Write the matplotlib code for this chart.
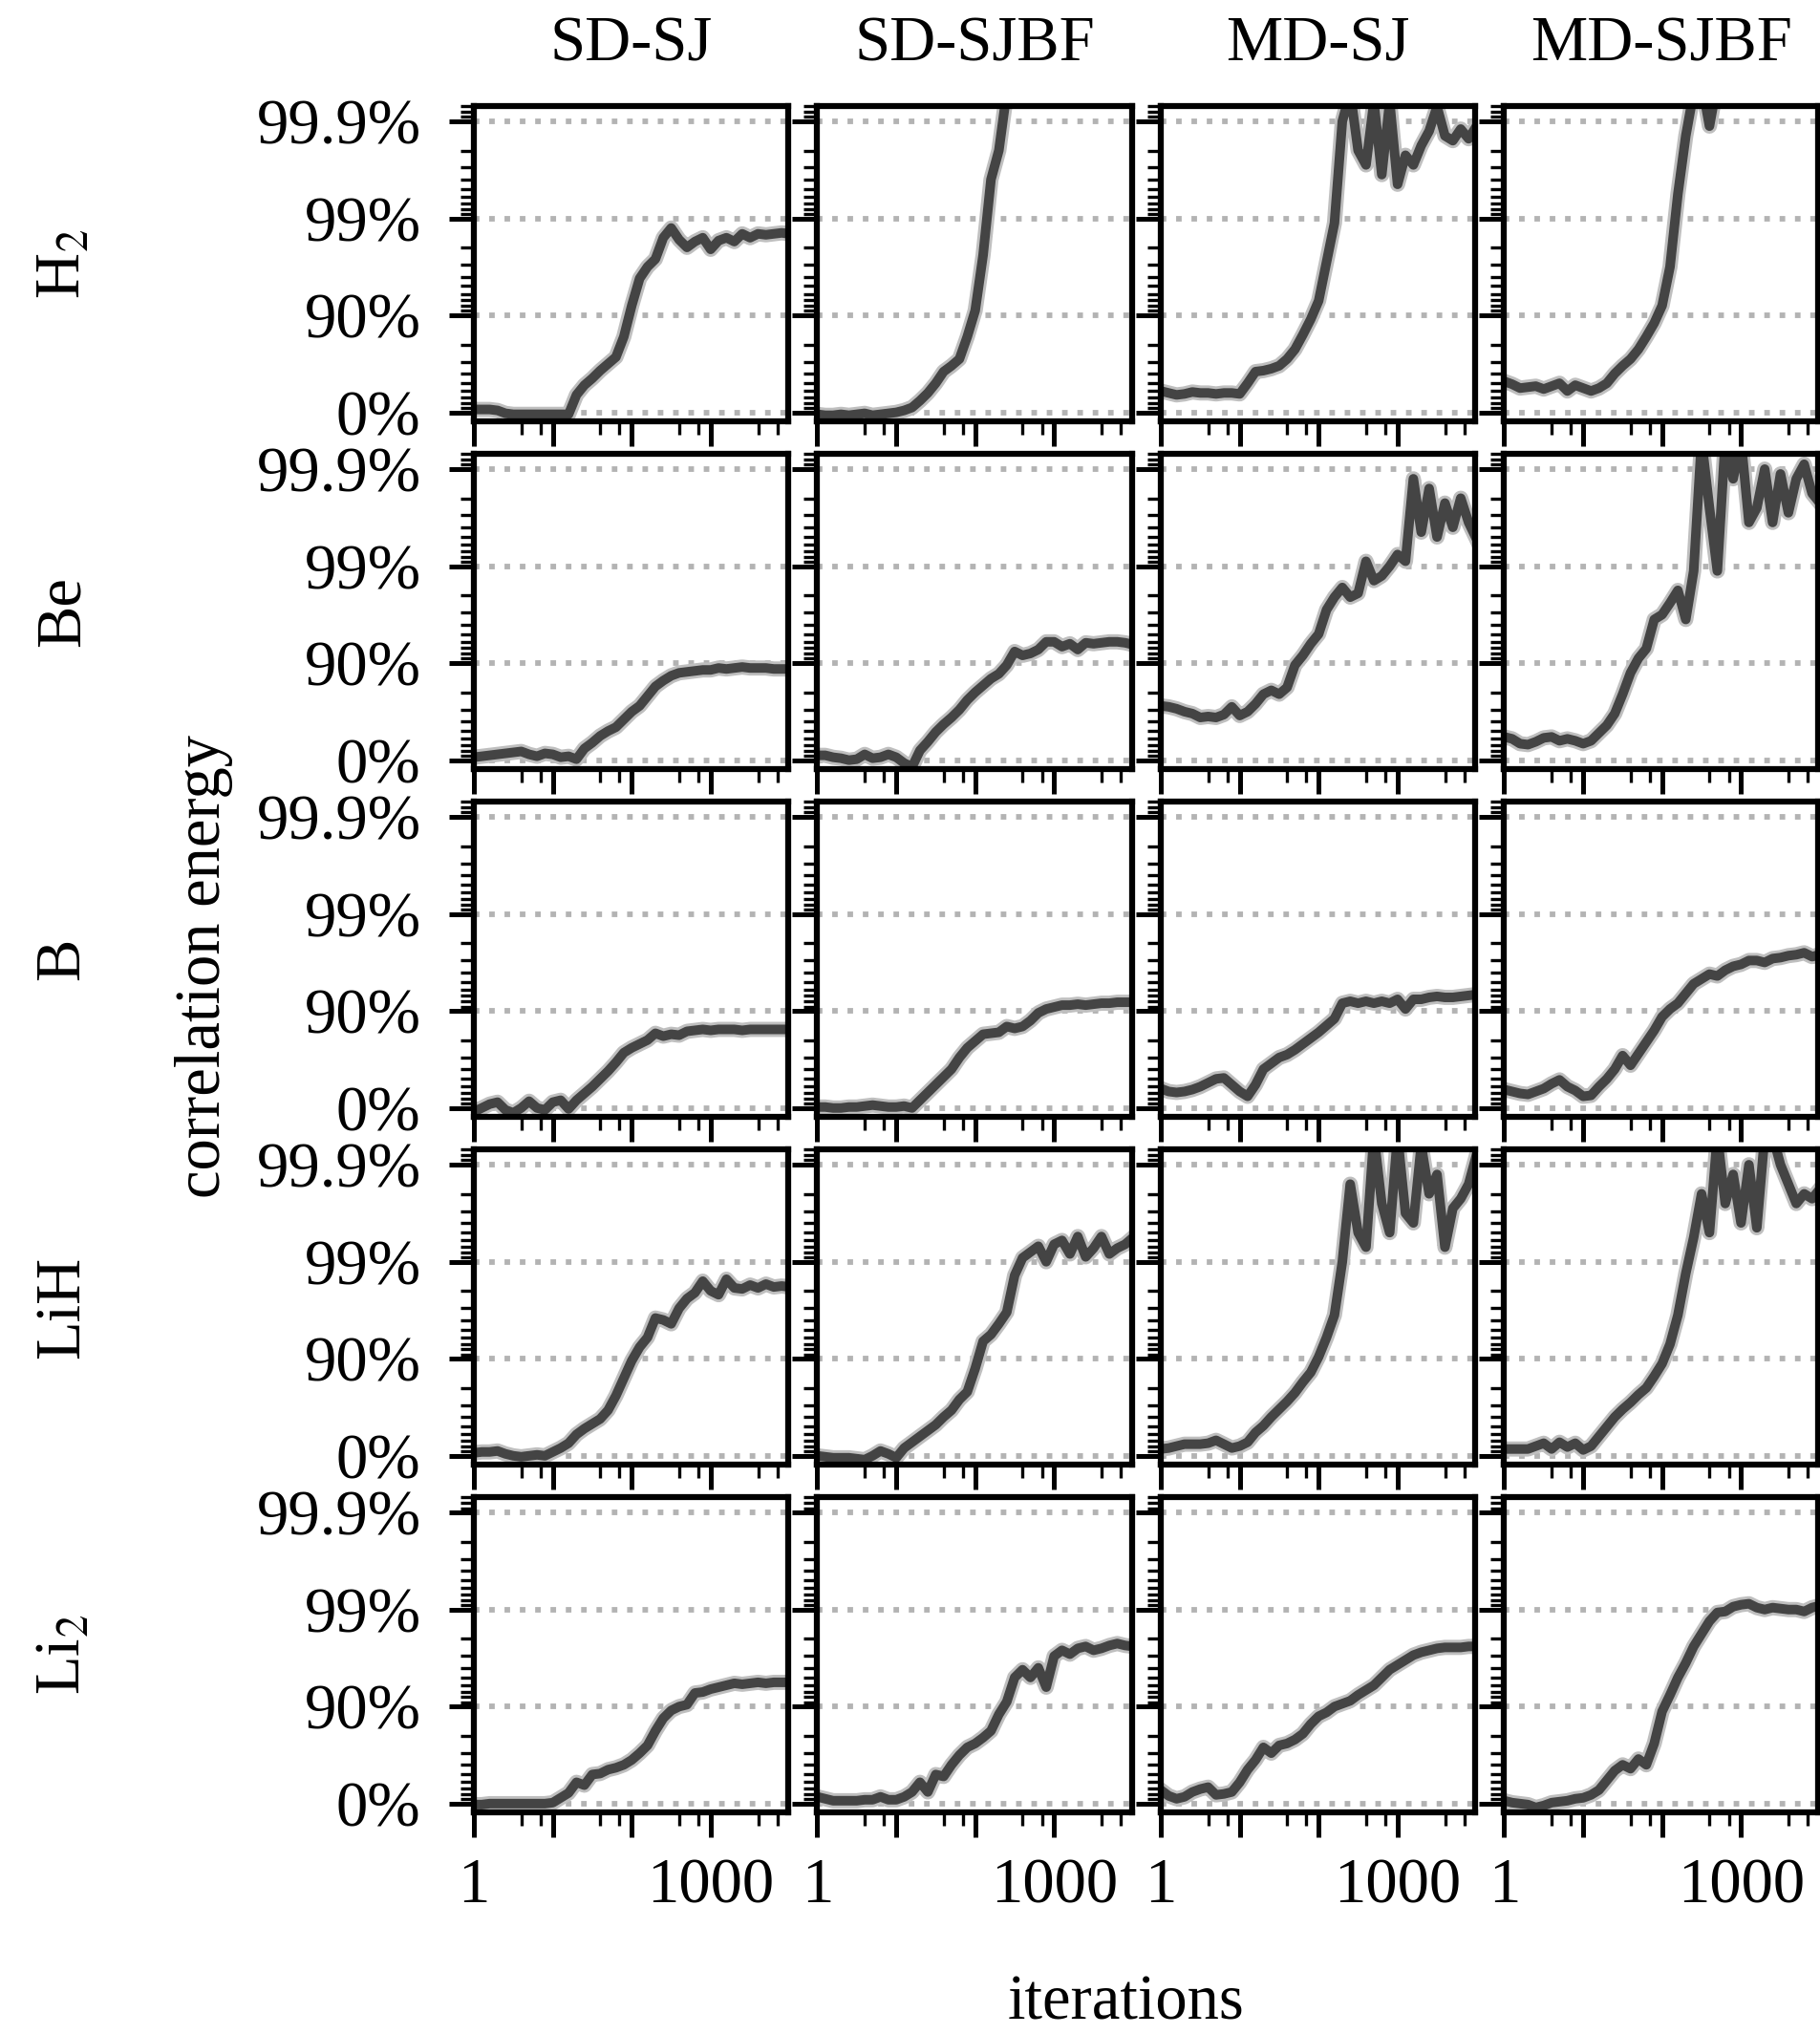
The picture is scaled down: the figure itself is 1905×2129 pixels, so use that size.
import numpy as np
import matplotlib
matplotlib.use('Agg')
from matplotlib import pyplot as plt
from matplotlib import ticker

plt.rcParams['font.family'] = ['Liberation Serif', 'DejaVu Serif']
plt.rcParams['mathtext.fontset'] = 'stix'
plt.rcParams['font.size'] = 16

methods = ['SD-SJ', 'SD-SJBF', 'MD-SJ', 'MD-SJBF']
systems = ['H$_2$', 'Be', 'B', 'LiH', 'Li$_2$']
nines_ticks = [0, 1, 2, 3]
nines_labels = ['0%', '90%', '99%', '99.9%']

# sampled iterations (shared by all curves)
iterations = [1, 1.259, 1.585, 1.995, 2.512, 3.162, 3.981, 5.012, 6.310, 7.943,
              10, 12.59, 15.85, 19.95, 25.12, 31.62, 39.81, 50.12, 63.10, 79.43,
              100, 125.9, 158.5, 199.5, 251.2, 316.2, 398.1, 501.2, 631.0, 794.3,
              1000, 1259, 1585, 1995, 2512, 3162, 3981, 5012, 6310, 7943, 10000]

# correlation energy in "nines": -log10(1 - fraction)
h2_sd_sj = [0.03, 0.03, 0.03, 0.02, -0.01, -0.02, -0.02, -0.02, -0.02, -0.02,
            -0.02, -0.02, -0.02, 0.18, 0.28, 0.35, 0.43, 0.50, 0.57, 0.78,
            1.10, 1.38, 1.50, 1.58, 1.80, 1.90, 1.78, 1.70, 1.76, 1.80,
            1.68, 1.77, 1.80, 1.76, 1.84, 1.80, 1.84, 1.83, 1.84, 1.85, 1.84]
h2_sd_sjbf = [-0.02, -0.03, -0.03, -0.02, -0.03, -0.02, -0.01, -0.03, -0.02, -0.01,
              0.00, 0.02, 0.05, 0.12, 0.20, 0.30, 0.42, 0.48, 0.55, 0.78,
              1.05, 1.62, 2.40, 2.70, 3.30, 3.50, 3.50, 3.50, 3.50, 3.50,
              3.50, 3.50, 3.50, 3.50, 3.50, 3.50, 3.50, 3.50, 3.50, 3.50, 3.50]
h2_md_sj = [0.22, 0.20, 0.18, 0.19, 0.21, 0.20, 0.20, 0.19, 0.20, 0.20,
            0.19, 0.30, 0.42, 0.43, 0.45, 0.48, 0.55, 0.65, 0.80, 0.96,
            1.15, 1.55, 1.95, 3.00, 3.30, 2.70, 2.55, 3.20, 2.45, 3.20,
            2.35, 2.65, 2.55, 2.75, 2.90, 3.15, 2.85, 2.80, 2.92, 2.82, 2.95]
h2_md_sjbf = [0.32, 0.29, 0.25, 0.26, 0.27, 0.24, 0.27, 0.30, 0.22, 0.28,
              0.25, 0.22, 0.25, 0.30, 0.40, 0.48, 0.55, 0.65, 0.78, 0.92,
              1.10, 1.50, 2.25, 2.85, 3.30, 3.40, 2.95, 3.40, 3.50, 3.50,
              3.50, 3.50, 3.50, 3.50, 3.50, 3.50, 3.50, 3.50, 3.50, 3.50, 3.50]

be_sd_sj = [0.03, 0.04, 0.05, 0.06, 0.07, 0.08, 0.09, 0.06, 0.04, 0.07,
            0.06, 0.03, 0.04, 0.01, 0.12, 0.18, 0.25, 0.30, 0.34, 0.42,
            0.50, 0.56, 0.66, 0.76, 0.82, 0.87, 0.90, 0.91, 0.92, 0.93,
            0.93, 0.95, 0.94, 0.95, 0.96, 0.95, 0.95, 0.95, 0.94, 0.94, 0.94]
be_sd_sjbf = [0.05, 0.05, 0.03, 0.02, 0.00, 0.01, 0.06, 0.02, 0.03, 0.06,
              0.03, -0.03, -0.07, 0.10, 0.19, 0.29, 0.37, 0.44, 0.52, 0.62,
              0.70, 0.77, 0.84, 0.89, 0.98, 1.12, 1.08, 1.10, 1.14, 1.22,
              1.22, 1.17, 1.20, 1.14, 1.21, 1.20, 1.21, 1.22, 1.22, 1.21, 1.19]
be_md_sj = [0.56, 0.55, 0.53, 0.50, 0.48, 0.44, 0.45, 0.44, 0.47, 0.55,
            0.46, 0.50, 0.58, 0.68, 0.72, 0.68, 0.75, 0.98, 1.08, 1.20,
            1.30, 1.55, 1.68, 1.78, 1.68, 1.72, 2.05, 1.85, 1.90, 2.00,
            2.12, 2.05, 2.90, 2.35, 2.80, 2.30, 2.65, 2.40, 2.70, 2.45, 2.28]
be_md_sjbf = [0.24, 0.22, 0.17, 0.16, 0.19, 0.23, 0.24, 0.20, 0.22, 0.20,
              0.17, 0.20, 0.28, 0.36, 0.48, 0.68, 0.90, 1.05, 1.15, 1.45,
              1.50, 1.62, 1.75, 1.45, 1.95, 3.30, 2.60, 1.95, 3.30, 2.90,
              3.30, 2.45, 2.60, 3.00, 2.45, 2.95, 2.55, 2.90, 3.05, 2.75, 2.65]

b_sd_sj = [-0.04, 0.00, 0.04, 0.06, -0.02, -0.05, 0.00, 0.07, 0.00, -0.02,
           0.06, 0.08, -0.01, 0.08, 0.15, 0.22, 0.30, 0.38, 0.47, 0.57,
           0.62, 0.66, 0.70, 0.77, 0.74, 0.76, 0.75, 0.79, 0.80, 0.81,
           0.80, 0.81, 0.81, 0.81, 0.80, 0.81, 0.81, 0.81, 0.81, 0.81, 0.81]
b_sd_sjbf = [0.01, 0.01, 0.00, 0.00, 0.01, 0.01, 0.02, 0.03, 0.02, 0.01,
             0.01, 0.02, 0.00, 0.08, 0.16, 0.24, 0.32, 0.40, 0.52, 0.62,
             0.69, 0.76, 0.77, 0.78, 0.84, 0.82, 0.84, 0.90, 0.98, 1.02,
             1.04, 1.06, 1.06, 1.07, 1.06, 1.07, 1.08, 1.08, 1.09, 1.09, 1.09]
b_md_sj = [0.20, 0.17, 0.16, 0.17, 0.19, 0.22, 0.26, 0.30, 0.31, 0.24,
           0.17, 0.12, 0.24, 0.40, 0.46, 0.52, 0.55, 0.60, 0.66, 0.72,
           0.78, 0.85, 0.92, 1.08, 1.10, 1.08, 1.10, 1.08, 1.10, 1.08,
           1.12, 1.02, 1.12, 1.12, 1.14, 1.15, 1.14, 1.14, 1.15, 1.16, 1.17]
b_md_sjbf = [0.19, 0.17, 0.15, 0.14, 0.17, 0.20, 0.25, 0.29, 0.22, 0.18,
             0.12, 0.13, 0.22, 0.30, 0.40, 0.54, 0.44, 0.56, 0.68, 0.80,
             0.94, 1.02, 1.08, 1.18, 1.28, 1.33, 1.38, 1.36, 1.42, 1.46,
             1.48, 1.52, 1.52, 1.50, 1.54, 1.55, 1.57, 1.58, 1.60, 1.56, 1.58]

lih_sd_sj = [0.03, 0.04, 0.04, 0.05, 0.02, 0.00, -0.01, 0.00, 0.01, 0.00,
             0.04, 0.08, 0.13, 0.22, 0.28, 0.33, 0.38, 0.47, 0.62, 0.80,
             0.98, 1.12, 1.22, 1.42, 1.40, 1.36, 1.52, 1.62, 1.68, 1.80,
             1.70, 1.66, 1.82, 1.73, 1.72, 1.76, 1.73, 1.77, 1.74, 1.75, 1.74]
lih_sd_sjbf = [0.00, -0.01, -0.02, -0.02, -0.02, -0.03, -0.04, 0.00, 0.05, 0.02,
               -0.02, 0.08, 0.14, 0.20, 0.26, 0.32, 0.40, 0.47, 0.58, 0.66,
               0.90, 1.18, 1.25, 1.36, 1.48, 1.86, 2.04, 2.10, 2.16, 2.00,
               2.18, 2.22, 2.08, 2.26, 2.05, 2.14, 2.26, 2.08, 2.14, 2.18, 2.25]
lih_md_sj = [0.07, 0.08, 0.10, 0.12, 0.12, 0.12, 0.13, 0.16, 0.12, 0.08,
             0.10, 0.14, 0.24, 0.31, 0.40, 0.48, 0.56, 0.65, 0.76, 0.86,
             1.02, 1.22, 1.45, 2.00, 2.80, 2.30, 2.15, 3.30, 2.60, 2.30,
             3.30, 2.50, 2.40, 3.20, 2.70, 2.90, 2.15, 2.55, 2.65, 2.80, 3.10]
lih_md_sjbf = [0.07, 0.07, 0.07, 0.07, 0.10, 0.13, 0.07, 0.14, 0.09, 0.13,
               0.06, 0.10, 0.20, 0.30, 0.40, 0.48, 0.55, 0.63, 0.70, 0.82,
               0.95, 1.15, 1.45, 1.88, 2.25, 2.70, 2.30, 3.30, 2.60, 2.90,
               2.40, 3.00, 2.35, 3.30, 3.30, 3.00, 2.80, 2.60, 2.70, 2.65, 2.75]

li2_sd_sj = [-0.01, -0.01, 0.00, 0.00, 0.00, 0.00, 0.00, 0.00, 0.00, 0.00,
             0.01, 0.06, 0.11, 0.22, 0.19, 0.30, 0.31, 0.35, 0.37, 0.40,
             0.45, 0.52, 0.60, 0.75, 0.88, 0.96, 1.00, 1.02, 1.14, 1.15,
             1.18, 1.20, 1.22, 1.24, 1.23, 1.24, 1.25, 1.24, 1.25, 1.25, 1.25]
li2_sd_sjbf = [0.07, 0.05, 0.03, 0.03, 0.03, 0.03, 0.04, 0.04, 0.07, 0.04,
               0.04, 0.07, 0.12, 0.22, 0.12, 0.30, 0.28, 0.40, 0.50, 0.58,
               0.62, 0.68, 0.75, 0.92, 1.05, 1.30, 1.38, 1.30, 1.40, 1.20,
               1.52, 1.58, 1.54, 1.60, 1.62, 1.58, 1.60, 1.63, 1.65, 1.63, 1.62]
li2_md_sj = [0.14, 0.08, 0.05, 0.07, 0.12, 0.15, 0.17, 0.09, 0.10, 0.12,
             0.22, 0.35, 0.45, 0.58, 0.52, 0.60, 0.62, 0.66, 0.72, 0.82,
             0.90, 0.94, 1.00, 1.03, 1.06, 1.12, 1.17, 1.22, 1.30, 1.38,
             1.43, 1.48, 1.53, 1.56, 1.58, 1.60, 1.61, 1.61, 1.61, 1.62, 1.62]
li2_md_sjbf = [0.03, 0.01, 0.00, -0.01, -0.04, -0.02, 0.01, 0.02, 0.03, 0.05,
               0.06, 0.09, 0.14, 0.24, 0.34, 0.40, 0.36, 0.46, 0.40, 0.62,
               0.95, 1.12, 1.30, 1.45, 1.62, 1.75, 1.88, 1.97, 1.98, 2.03,
               2.05, 2.06, 2.02, 2.00, 2.02, 2.01, 2.00, 2.00, 1.98, 2.02, 2.04]

curves = [
    [h2_sd_sj, h2_sd_sjbf, h2_md_sj, h2_md_sjbf],
    [be_sd_sj, be_sd_sjbf, be_md_sj, be_md_sjbf],
    [b_sd_sj, b_sd_sjbf, b_md_sj, b_md_sjbf],
    [lih_sd_sj, lih_sd_sjbf, lih_md_sj, lih_md_sjbf],
    [li2_sd_sj, li2_sd_sjbf, li2_md_sj, li2_md_sjbf],
]

y_lo, y_hi = -0.09, 3.157
# minor ticks at 10%..80% of each remaining decade
minor_nines = [d - np.log10(1 - k / 10) for d in range(4) for k in range(1, 9)]
minor_nines = [m for m in minor_nines if m <= y_hi]

W, H = 1905, 2129
fig, axes = plt.subplots(5, 4, figsize=(W / 300, H / 300))
fig.subplots_adjust(left=496 / W, right=1903.5 / W, top=1 - 111 / H, bottom=1 - 1897 / H,
                    wspace=0.0927, hspace=0.104)

for i, row in enumerate(axes):
    for j, ax in enumerate(row):
        y = curves[i][j]
        ax.plot(iterations, y, color='#bfbfbf', lw=3.8, solid_joinstyle='round')
        ax.plot(iterations, y, color='#444444', lw=2.4, solid_joinstyle='round')

        ax.set_xscale('log')
        ax.set_xlim(1, 9600)
        ax.set_ylim(y_lo, y_hi)
        ax.xaxis.set_major_locator(ticker.FixedLocator([1, 10, 100, 1000]))
        ax.xaxis.set_minor_locator(ticker.LogLocator(base=10, subs=(4.0, 7.0), numticks=20))
        ax.xaxis.set_minor_formatter(ticker.NullFormatter())
        if i == 4:
            ax.set_xticklabels(['1', '', '', '1000'])
        else:
            ax.set_xticklabels([])
        ax.set_yticks(nines_ticks)
        ax.set_yticks(minor_nines, minor=True)
        ax.set_yticklabels(nines_labels if j == 0 else [])

        ax.yaxis.grid(True, color='#b3b3b3', linestyle=(0, (1, 1.75)), linewidth=1.4)
        ax.set_axisbelow(True)
        for s in ax.spines.values():
            s.set_linewidth(1.5)
        ax.tick_params(which='major', direction='out', length=6.3, width=1.2)
        ax.tick_params(which='minor', direction='out', length=3.3, width=0.8)
        ax.tick_params(axis='y', which='major', pad=7)
        ax.tick_params(axis='x', which='major', pad=5)

# column and row labels
for j, m in enumerate(methods):
    ax = axes[0, j]
    box = ax.get_position()
    fig.text((box.x0 + box.x1) / 2, 1 - 64 / H, m, ha='center', va='baseline')
for i, s in enumerate(systems):
    box = axes[i, 0].get_position()
    fig.text(66 / W, (box.y0 + box.y1) / 2, s, rotation=90, ha='center', va='center')

fig.text(214 / W, 1 - 1012 / H, 'correlation energy', rotation=90, ha='center', va='center')
fig.text(1178 / W, 1 / H, 'iterations', ha='center', va='bottom')

fig.savefig('out.png', dpi=300)
